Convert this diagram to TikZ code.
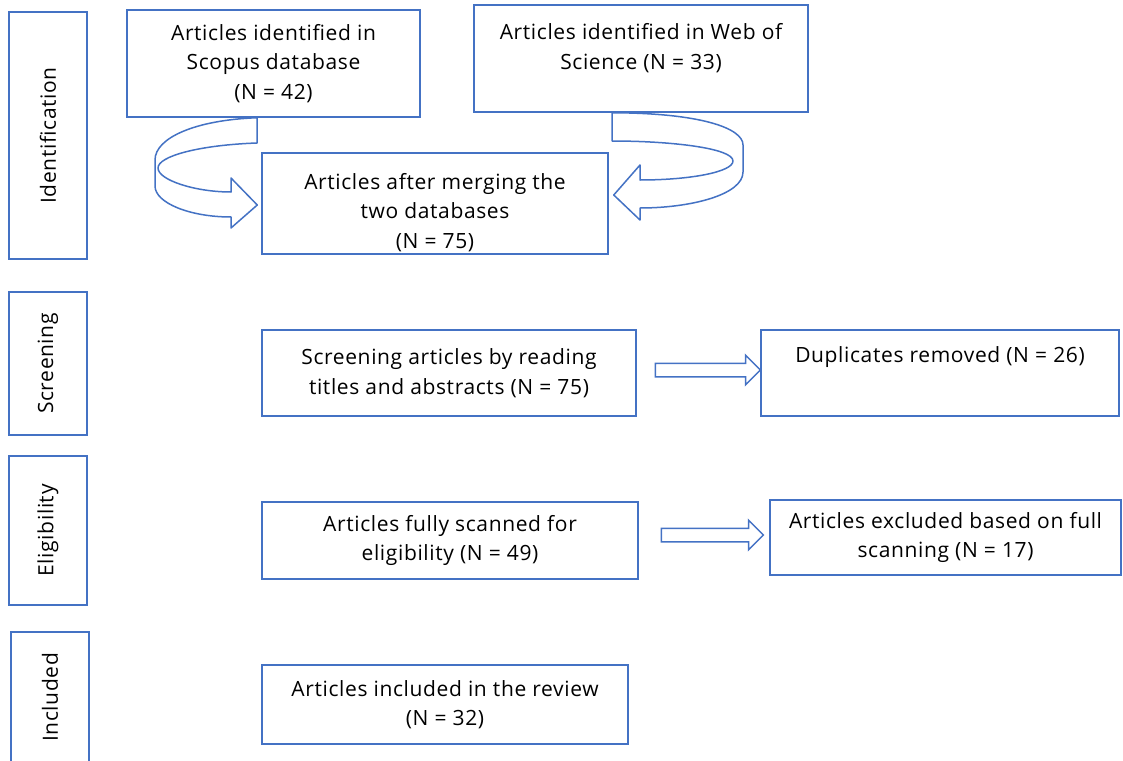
\documentclass[tikz,border=0pt]{standalone}
\usepackage{fontspec}
\setmainfont[LetterSpace=3]{Open Sans}
\usepackage{tikz}
\usetikzlibrary{shapes.arrows,positioning,calc}
\definecolor{prismablue}{RGB}{68,114,196}

\begin{document}
\begin{tikzpicture}[
        x=1pt, y=-1pt,
        every node/.style={font=\fontsize{21}{29.5}\selectfont},
        box/.style={draw=prismablue, line width=1.5pt, align=center, inner sep=0pt},
        stage/.style={draw=prismablue, line width=1.5pt, rotate=90, minimum height=78pt, inner sep=0pt},
        blockarrow/.style={draw=prismablue, line width=1.5pt, single arrow, inner sep=6pt, single arrow head extend=8pt},
        curvedarrow/.style={draw=prismablue, line width=1.5pt, fill=white, line join=round},
    ]
        \useasboundingbox (0,0) rectangle (1123,760);

        % Stages
        \node[stage, minimum width=247pt] (ident) at (48,135.5) {Identification};
        \node[stage, minimum width=143pt] (screen) at (48,363.5) {Screening};
        \node[stage, minimum width=149pt] (elig) at (48,530.5) {Eligibility};
        \node[stage, minimum width=131pt] (incl) at (50,697.5) {Included};

        % Boxes
        \node[box, minimum width=293pt, minimum height=107pt] (scopus) at (273.5,63.5) {Articles identified in\\Scopus database\\(N = 42)};
        \node[box, minimum width=334pt, minimum height=107pt, text depth=24pt] (wos) at (641,58.5) {Articles identified in Web of\\Science (N = 33)};
        \node[box, minimum width=346pt, minimum height=101pt] (merged) at (435,203.5) {\rule{0pt}{34pt}Articles after merging the\\two databases\\(N = 75)};
        \node[box, minimum width=374pt, minimum height=86pt] (titles) at (449,373) {Screening articles by reading\\titles and abstracts (N = 75)};
        \node[box, minimum width=358pt, minimum height=86pt, text depth=37pt] (dupl) at (940,373) {Duplicates removed (N = 26)};
        \node[box, minimum width=376pt, minimum height=77pt] (scanned) at (450,540.5) {Articles fully scanned for\\eligibility (N = 49)};
        \node[box, minimum width=351pt, minimum height=75pt] (excl) at (945.5,537.5) {Articles excluded based on full\\scanning (N = 17)};
        \node[box, minimum width=366pt, minimum height=79pt] (review) at (445,704.5) {Articles included in the review\\(N = 32)};

        % Block arrows
        \node[blockarrow, minimum height=105pt] (a1) at ($(titles.east)!0.5!(dupl.west)+(6,-3)$) {};
        \node[blockarrow, minimum height=102pt] (a2) at ($(scanned.east)!0.5!(excl.west)+(5,-4)$) {};

        % Curved arrows into the merged box
        \draw[curvedarrow] (scopus.south -| 257,0) -- (257,143)
            .. controls (200,145) and (158,156) .. (158,168)
            .. controls (158,180) and (195,192) .. (231,192)
            -- (231,178) -- ([xshift=-4pt]merged.west |- 0,205) -- (231,228) -- (231,217)
            .. controls (190,217) and (155,203) .. (155,186)
            -- (155,160)
            .. controls (155,138) and (195,120) .. cycle;
        \draw[curvedarrow] (wos.south -| 612,0) -- (612,141)
            .. controls (670,141) and (733,148) .. (733,161)
            .. controls (733,172) and (690,180) .. (640,180)
            -- (640,165) -- ([xshift=5pt]merged.east |- 0,195) -- (640,220) -- (640,208)
            .. controls (690,208) and (743,195) .. (743,172)
            -- (743,145)
            .. controls (743,128) and (700,113) .. cycle;
    \end{tikzpicture}
\end{document}
